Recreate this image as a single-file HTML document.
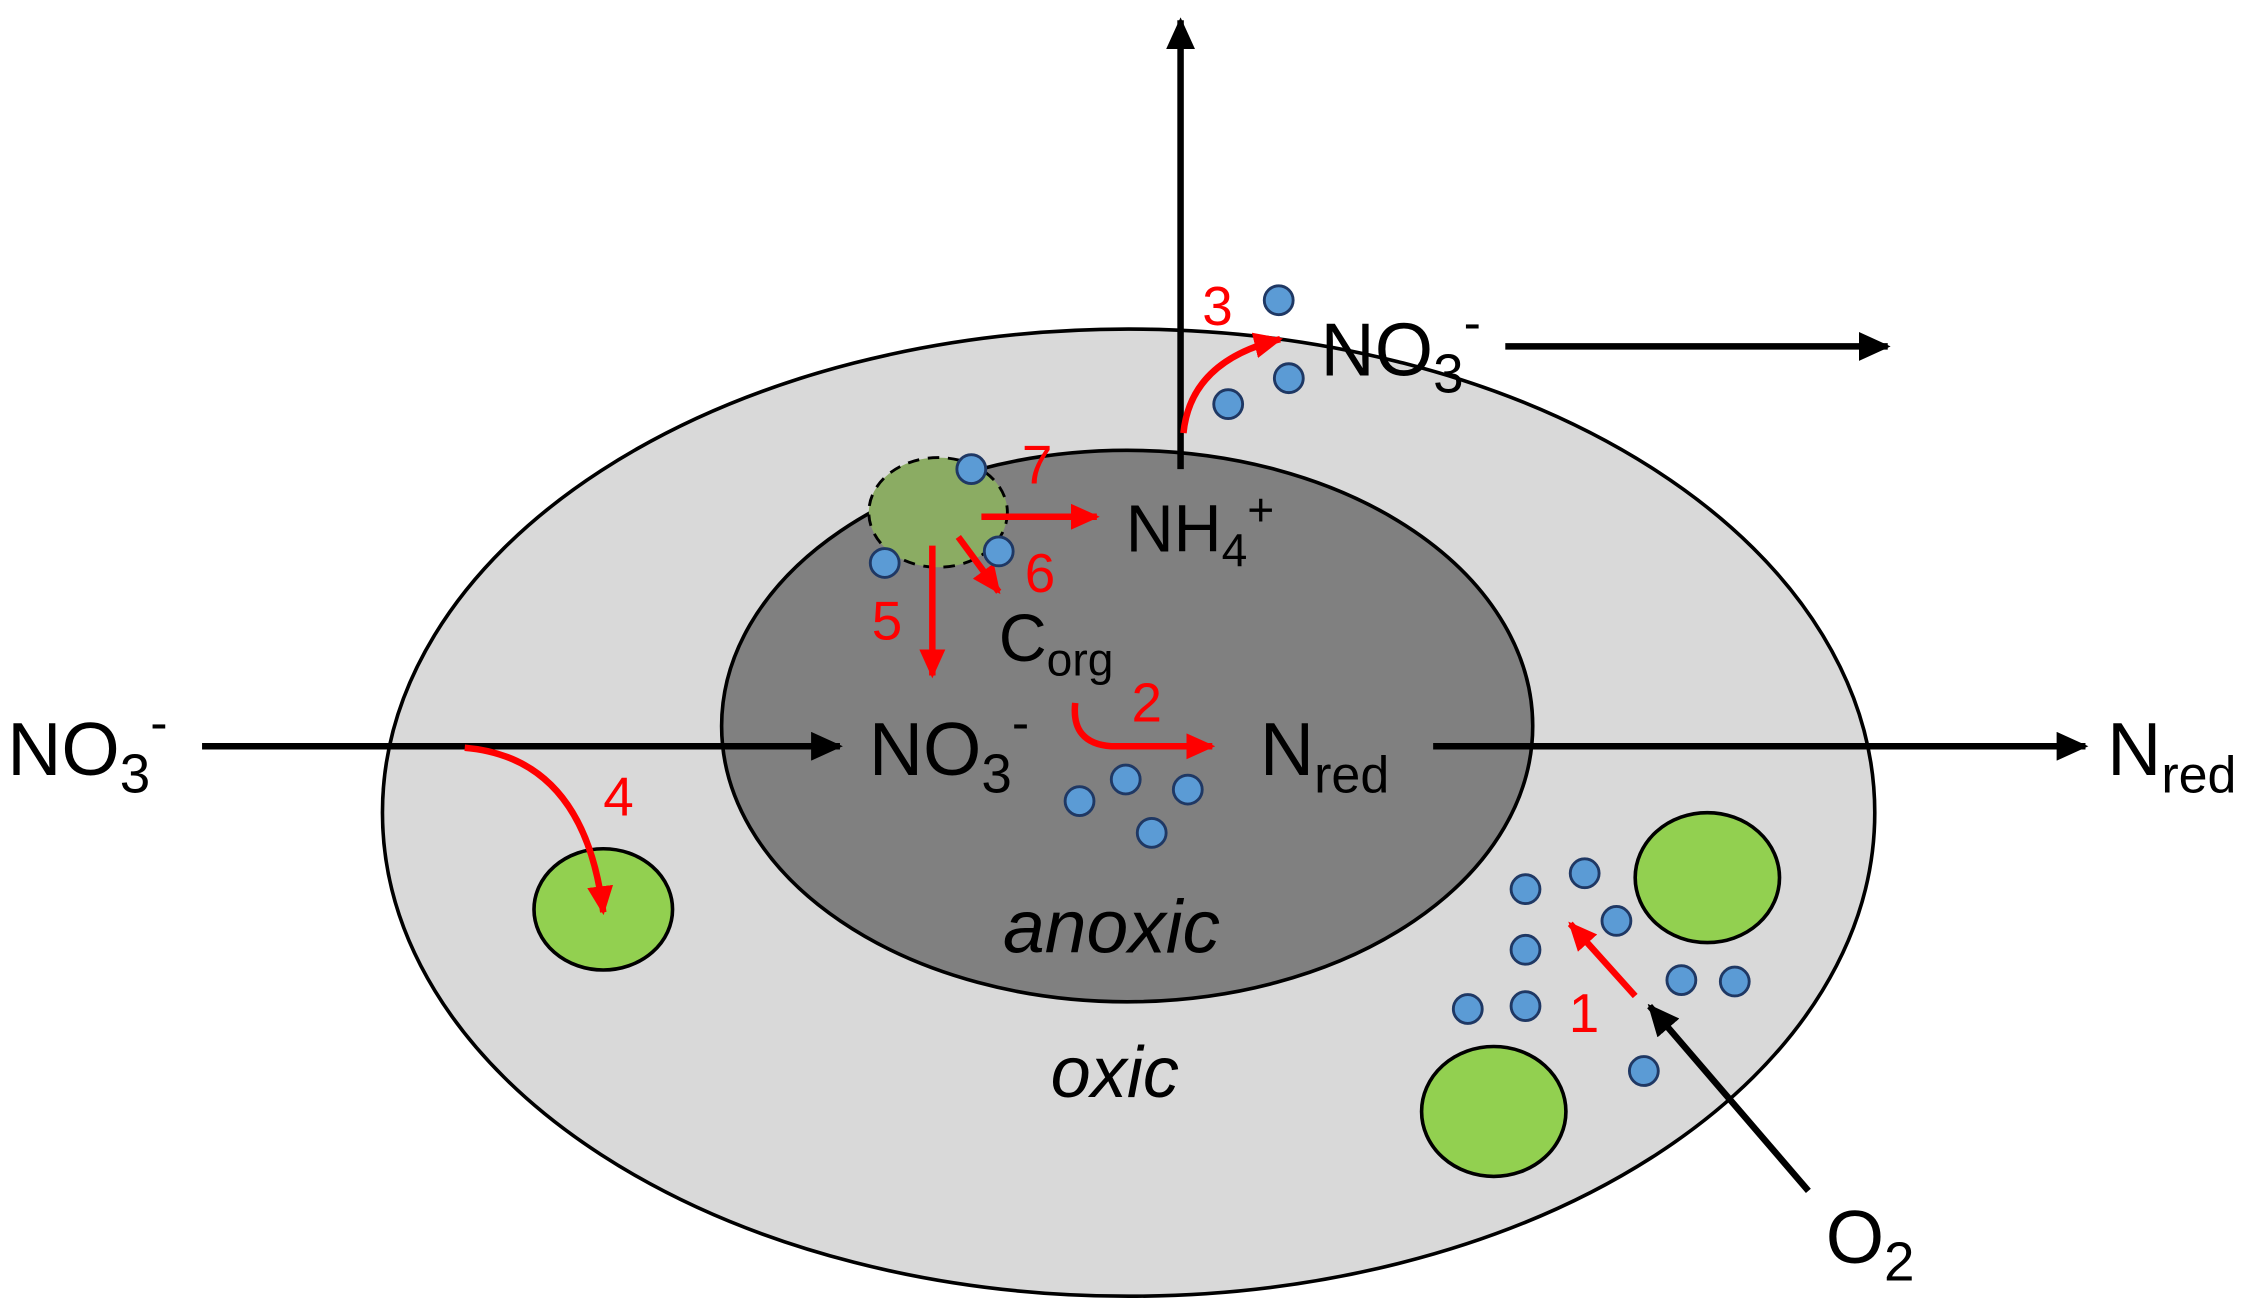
<!DOCTYPE html>
<html><head><meta charset="utf-8"><style>
html,body{margin:0;padding:0;background:#fff;}
svg{display:block;}
text{font-family:"Liberation Sans",sans-serif;}
</style></head><body>
<svg width="2263" height="1302" viewBox="0 0 1568 902" preserveAspectRatio="none" xmlns="http://www.w3.org/2000/svg">
<defs>
<marker id="bkb" markerWidth="22" markerHeight="20" refX="20" refY="10" orient="auto" markerUnits="userSpaceOnUse"><path d="M0,0 L22,10 L0,20 z" fill="#000"/></marker>
<marker id="rd" markerWidth="20" markerHeight="18" refX="18" refY="9" orient="auto" markerUnits="userSpaceOnUse"><path d="M0,0 L20,9 L0,18 z" fill="#ff0000"/></marker>
</defs>
<ellipse cx="782" cy="563" rx="517" ry="335" fill="#d9d9d9" stroke="#000" stroke-width="2.5"/>
<ellipse cx="781" cy="503" rx="281" ry="191" fill="#808080" stroke="#000" stroke-width="2.5"/>

<ellipse cx="418" cy="630" rx="48" ry="42" fill="#92d050" stroke="#000" stroke-width="2.5"/>
<ellipse cx="1183" cy="608" rx="50" ry="45" fill="#92d050" stroke="#000" stroke-width="2.5"/>
<ellipse cx="1035" cy="770" rx="50" ry="45" fill="#92d050" stroke="#000" stroke-width="2.5"/>
<ellipse cx="650" cy="355" rx="48" ry="38" fill="#8bac63" stroke="#000" stroke-width="2" stroke-dasharray="8,6"/>

<line x1="818" y1="325" x2="818" y2="14" stroke="#000" stroke-width="4.5" marker-end="url(#bkb)"/>
<line x1="1043" y1="240" x2="1308" y2="240" stroke="#000" stroke-width="4.5" marker-end="url(#bkb)"/>
<line x1="140" y1="517" x2="582" y2="517" stroke="#000" stroke-width="4.5" marker-end="url(#bkb)"/>
<line x1="993" y1="517" x2="1445" y2="517" stroke="#000" stroke-width="4.5" marker-end="url(#bkb)"/>
<line x1="1253" y1="825" x2="1143" y2="697" stroke="#000" stroke-width="4.5" marker-end="url(#bkb)"/>

<g stroke="#ff0000" stroke-width="4.5" fill="none">
<path d="M745,487 Q742,515 770,517 L840,517" marker-end="url(#rd)"/>
<line x1="1133" y1="690" x2="1088" y2="640" marker-end="url(#rd)"/>
<path d="M820,300 Q825,250 887,235" marker-end="url(#rd)"/>
<path d="M322,518 Q405,525 418,632" marker-end="url(#rd)"/>
<line x1="646" y1="378" x2="646" y2="468" marker-end="url(#rd)"/>
<line x1="664" y1="372" x2="692" y2="410" marker-end="url(#rd)"/>
<line x1="680" y1="358" x2="760" y2="358" marker-end="url(#rd)"/>
</g>

<g fill="#5b9bd5" stroke="#1f3864" stroke-width="2">
<circle cx="886" cy="208" r="10"/><circle cx="893" cy="262" r="10"/><circle cx="851" cy="280" r="10"/>
<circle cx="673" cy="325" r="10"/><circle cx="613" cy="390" r="10"/><circle cx="692" cy="382" r="10"/>
<circle cx="748" cy="555" r="10"/><circle cx="780" cy="540" r="10"/><circle cx="823" cy="547" r="10"/><circle cx="798" cy="577" r="10"/>
<circle cx="1057" cy="616" r="10"/><circle cx="1098" cy="605" r="10"/><circle cx="1120" cy="638" r="10"/><circle cx="1057" cy="658" r="10"/>
<circle cx="1017" cy="699" r="10"/><circle cx="1057" cy="697" r="10"/><circle cx="1165" cy="679" r="10"/><circle cx="1202" cy="680" r="10"/><circle cx="1139" cy="742" r="10"/>
</g>

<g fill="#000" font-size="52">
<text x="915" y="260">NO<tspan font-size="38" dy="12">3</tspan><tspan font-size="36" dy="-36">-</tspan></text>
<text x="5" y="537">NO<tspan font-size="38" dy="12">3</tspan><tspan font-size="36" dy="-36">-</tspan></text>
<text x="602" y="537">NO<tspan font-size="38" dy="12">3</tspan><tspan font-size="36" dy="-36">-</tspan></text>
<text x="873" y="537">N<tspan font-size="36" dy="12">red</tspan></text>
<text x="1460" y="537">N<tspan font-size="36" dy="12">red</tspan></text>
<text x="1265" y="875">O<tspan font-size="38" dy="12">2</tspan></text>
<text x="780" y="382" font-size="46">NH<tspan font-size="32" dy="10">4</tspan><tspan font-size="32" dy="-28">+</tspan></text>
<text x="692" y="458" font-size="46">C<tspan font-size="32" dy="10">org</tspan></text>
<text x="695" y="660" font-style="italic" font-size="52">anoxic</text>
<text x="728" y="760" font-style="italic" font-size="50">oxic</text>
</g>

<g fill="#ff0000" font-size="38">
<text x="784" y="500">2</text>
<text x="1087" y="715">1</text>
<text x="833" y="225">3</text>
<text x="418" y="565">4</text>
<text x="604" y="443">5</text>
<text x="710" y="410">6</text>
<text x="708" y="335">7</text>
</g>
</svg>
</body></html>
